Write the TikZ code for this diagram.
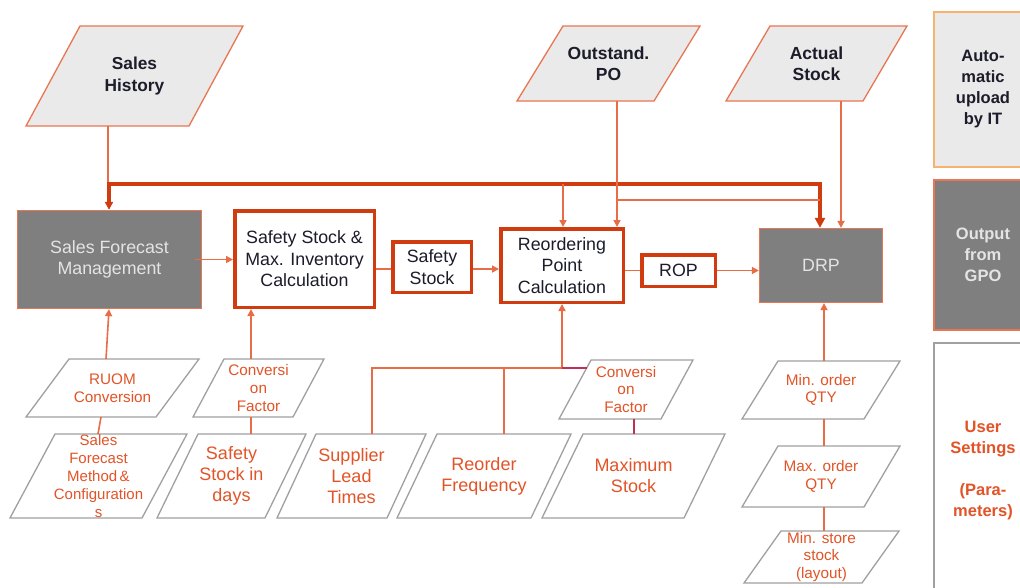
\documentclass[tikz,border=0pt]{standalone}
\usepackage{fontspec}
\setmainfont{Liberation Sans}
\usetikzlibrary{arrows.meta}
\definecolor{ored}{RGB}{208,60,16}
\definecolor{othin}{RGB}{232,108,70}
\definecolor{otext}{RGB}{226,84,40}
\definecolor{oborder}{RGB}{232,118,82}
\definecolor{lgray}{RGB}{234,234,234}
\definecolor{dgray}{RGB}{127,127,127}
\definecolor{pgray}{RGB}{160,160,160}
\definecolor{dtext}{RGB}{28,28,42}
\definecolor{ltext}{RGB}{228,228,228}
\definecolor{plum}{RGB}{192,48,84}
\definecolor{lorange}{RGB}{248,178,112}
\newcommand\para[9]{%
  \draw[#1] (#4,#5) -- ({#4+#8},#5) -- ({#6+#8},#7) -- (#6,#7) -- cycle;
  \coordinate (#3-t) at (#4,#5);
  \coordinate (#3-b) at (#6,#7);
  \node[#2] (#3) at ({(#4+#6+#8)/2},{(#5+#7)/2}) {#9};
}
\tikzset{
  upshape/.style={draw=oborder, fill=lgray, line width=1.3pt, line join=miter},
  lowshape/.style={draw=pgray, fill=white, line width=1.3pt},
  ptext/.style={inner sep=0pt, align=center},
  uptext/.style={ptext, text=dtext, font=\fontsize{17.5}{21.5}\selectfont\bfseries},
  smalltext/.style={ptext, text=otext, font=\fontsize{15.3}{17.6}\selectfont},
  bigtext/.style={ptext, text=otext, font=\fontsize{18}{21}\selectfont},
  calcbox/.style={draw=ored, line width=3.5pt, fill=white, align=center, text=dtext,
    font=\fontsize{17.8}{21.5}\selectfont, inner sep=0pt},
  gpobox/.style={draw=oborder, fill=dgray, line width=1.3pt, align=center, text=ltext,
    font=\fontsize{17.8}{21.5}\selectfont, inner sep=0pt},
  legbox/.style={line width=1.3pt, align=center, inner sep=0pt, minimum width=98pt,
    font=\fontsize{16.5}{21}\selectfont\bfseries},
  thinc/.style={draw=othin, line width=1.6pt},
  plumc/.style={draw=plum, line width=1.6pt},
  thickc/.style={draw=ored, line width=3.5pt, line join=miter},
  tip/.style={-{Triangle[length=7pt,width=7pt]}},
}
\begin{document}
\begin{tikzpicture}[x=1pt,y=-1pt]
\useasboundingbox (0,0) rectangle (1020,587);
\clip (0,0) rectangle (1020,587);

% top inputs
\para{upshape}{uptext,font=\fontsize{17.3}{22}\selectfont\bfseries}{sh}{80}{26}{26}{126}{163}{Sales\\History}
\para{upshape}{uptext}{po}{563}{26}{517}{101}{137}{Outstand.\\PO}
\para{upshape}{uptext}{as}{770}{26}{726}{101}{137}{Actual\\Stock}

% main boxes
\node[gpobox, minimum width=184pt, minimum height=98pt] (sfm) at (109.5,259.5) {Sales Forecast\\Management};
\node[calcbox, minimum width=139.5pt, minimum height=96.5pt] (ssc) at (304.5,259) {Safety Stock \&\\Max. Inventory\\Calculation};
\node[calcbox, minimum width=78.5pt, minimum height=50.5pt] (ss) at (432,267) {Safety\\Stock};
\node[calcbox, minimum width=122.5pt, minimum height=73.5pt] (rpc) at (562,265.5) {Reordering\\Point\\Calculation};
\node[calcbox, minimum width=73.5pt, minimum height=31.5pt] (rop) at (678.5,270.5) {ROP};
\node[gpobox, minimum width=123pt, minimum height=74pt] (drp) at (821,265.5) {DRP};

% parameters
\para{lowshape}{smalltext}{ruom}{69}{359}{26}{417}{130}{RUOM\\Conversion}
\para{lowshape}{smalltext}{cf1}{224}{359}{193}{417}{100}{Conversi\\on\\Factor}
\para{lowshape}{smalltext,font=\fontsize{15}{18}\selectfont}{sfmm}{55}{434}{10}{518}{132}{Sales\\Forecast\\Method\,\&\\Configuration\\s}
\para{lowshape}{bigtext}{ssd}{198}{434}{157}{518}{108}{Safety\\Stock in\\days}
\para{lowshape}{bigtext}{slt}{316}{434}{277}{518}{110}{Supplier\\Lead\\Times}
\para{lowshape}{bigtext}{rf}{437}{434}{397}{518}{134}{Reorder\\Frequency}
\para{lowshape}{smalltext}{cf2}{591}{360}{559}{419}{102}{Conversi\\on\\Factor}
\para{lowshape}{bigtext}{ms}{583}{434}{542}{518}{142}{Maximum\\Stock}
\para{lowshape}{smalltext}{mino}{778}{361}{742}{419}{122}{Min. order\\QTY}
\para{lowshape}{smalltext}{maxo}{778}{446}{742}{507}{122}{Max. order\\QTY}
\para{lowshape}{smalltext}{mins}{781}{531}{744}{583}{118}{Min. store\\stock\\(layout)}

% legend
\node[legbox, draw=lorange, fill=lgray, text=dtext, minimum height=155pt] (auto) at (983,89.5) {Auto-\\matic\\upload\\by IT};
\node[legbox, draw=oborder, fill=dgray, text=ltext, minimum height=150pt] (gpo) at (983,255) {Output\\from\\GPO};
\node[legbox, draw=pgray, fill=white, text=otext, minimum height=255pt] (user) at (983,470.5) {User\\Settings\\[21pt](Para-\\meters)};

% junction coordinates
\coordinate (tl) at (109,184);
\coordinate (tr) at (820,184);
\coordinate (j1) at (563,184);
\coordinate (j2) at (617,200);
\coordinate (j3) at (820,200);
\coordinate (bus1) at (372,368);
\coordinate (bus2) at (504,368);
\coordinate (bus3) at (562,368);
\coordinate (bus4) at (587,368);

% top connectors
\draw[thinc] (108,0 |- sh-b) -- (108,0 |- tl);
\draw[thickc, {Triangle[length=8pt,width=8pt]}-{Triangle[length=10pt,width=10pt]}] (tl |- sfm.north) -- (tl) -- (tr) -- (tr |- drp.north);
\draw[thinc, tip] (j1) -- (j1 |- rpc.north);
\draw[thinc, tip] (617,0 |- po-b) -- (617,0 |- rpc.north);
\draw[thinc] (j2) -- (j3);
\draw[thinc, tip] (841,0 |- as-b) -- (841,0 |- drp.north);

% horizontal flow
\draw[thinc, tip] ([xshift=-7pt]sfm.east) -- (ssc.west |- sfm.east);
\draw[thinc] (ssc.east |- 0,269) -- (ss.west |- 0,269);
\draw[thinc, tip] (ss.east |- 0,269) -- (rpc.west |- 0,269);
\draw[thinc] (rpc.east |- rop.west) -- (rop.west);
\draw[thinc, tip] (rop.east) -- (drp.west |- rop.east);

% parameter connectors
\draw[thinc, tip] (106,0 |- ruom-t) -- (109,0 |- sfm.south);
\draw[thinc] (98,0 |- sfmm-t) -- (101,0 |- ruom-b);
\draw[thinc, tip] (251,0 |- cf1-t) -- (251,0 |- ssc.south);
\draw[thinc] (251,0 |- ssd-t) -- (251,0 |- cf1-b);
\draw[thinc] (372,0 |- slt-t) -- (bus1) -- (bus3);
\draw[thinc] (bus2) -- (504,0 |- rf-t);
\draw[thinc, tip] (bus3) -- (bus3 |- rpc.south);
\draw[plumc] (bus3) -- (bus4);
\draw[plumc] (634,0 |- cf2-b) -- (634,0 |- ms-t);
\draw[thinc, tip] (824,0 |- mino-t) -- (824,0 |- drp.south);
\draw[thinc] (824,0 |- mino-b) -- (824,0 |- maxo-t);
\draw[thinc] (824,0 |- maxo-b) -- (824,0 |- mins-t);
\end{tikzpicture}
\end{document}
